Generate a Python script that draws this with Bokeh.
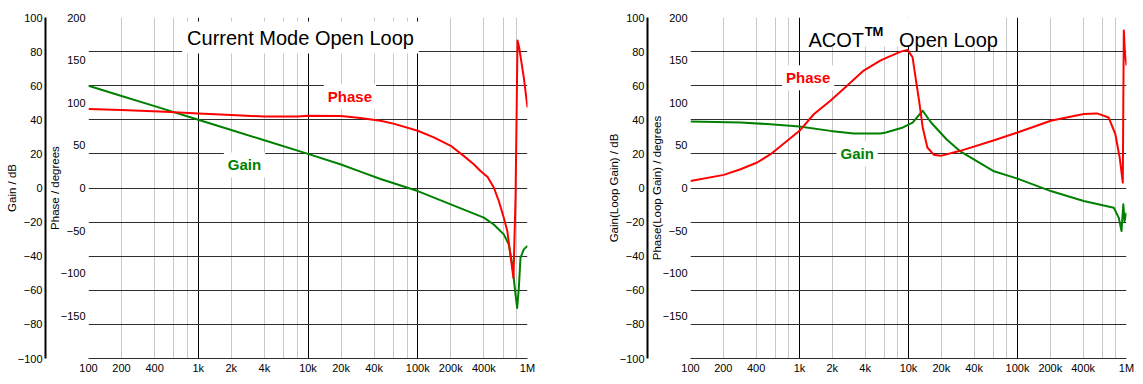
from bokeh.plotting import figure
from bokeh.models import (Range1d, LinearAxis, FixedTicker, Label, BoxAnnotation)
from bokeh.layouts import row
from bokeh.embed import file_html
from bokeh.resources import INLINE

FONT = "Liberation Sans"

# ---------------- data ----------------
x_tick_values = [100, 200, 400, 1000, 2000, 4000, 10000, 20000, 40000,
                 100000, 200000, 400000, 1000000]
x_tick_labels = ["100", "200", "400", "1k", "2k", "4k", "10k", "20k", "40k",
                 "100k", "200k", "400k", "1M"]
gain_ticks = [-100, -80, -60, -40, -20, 0, 20, 40, 60, 80, 100]
phase_ticks = [-150, -100, -50, 0, 50, 100, 150, 200]
phase_grid = [-200, -160, -120, -80, -40, 0, 40, 80, 120, 160, 200]

# Current mode open loop
cm_gain_freq = [100, 200, 400, 1000, 2000, 4000, 10000, 20000, 30000, 45800,
                100000, 200000, 400000, 493000, 608000, 676000, 726000, 778000,
                805000, 834000, 863000, 925000, 1000000]
cm_gain_db = [60, 54, 48, 40, 34, 28, 20, 13.8, 9.6, 5.3,
              -1.8, -9.6, -17.4, -21.4, -27.2, -33.1, -44.8, -62.5,
              -70.4, -58.6, -41, -36, -34]
cm_phase_freq = [100, 200, 500, 1000, 2000, 4000, 8000, 10000, 20000, 30000,
                 45800, 60000, 100000, 140000, 200000, 262000, 324000, 373000,
                 433000, 493000, 547000, 608000, 655000, 697000, 745000,
                 778000, 797000, 811000, 839000, 925000, 1000000]
cm_phase_deg = [92.6, 91.5, 89.4, 87.5, 85.5, 83.8, 84, 84.7, 84.5, 82,
                78.9, 75.5, 67.1, 59.3, 49.5, 37.7, 27.9, 20,
                12.8, 0.6, -15, -34.8, -50.6, -78, -105.4,
                -11.3, 94.5, 173, 165, 129.8, 94.5]

# ACOT open loop
acot_gain_freq = [100, 288, 506, 1000, 1920, 3160, 5500, 6200, 8900, 10900,
                  13500, 16100, 22300, 29400, 59800, 100000, 202000, 405000,
                  765000, 850000, 900000, 935000, 960000, 1000000]
acot_gain_db = [39.0, 38.4, 37.5, 36.1, 33.5, 32, 32, 32.6, 35.5, 38.4,
                45.3, 38.4, 28.6, 21.8, 10, 5.5, -1.8, -7.6,
                -11.6, -17.5, -25.3, -9.6, -19.4, -14.5]
acot_phase_freq = [100, 202, 288, 409, 543, 772, 1000, 1360, 1920, 2730, 3880,
                   5500, 6400, 8500, 9800, 10900, 11600, 12500, 13500, 14900,
                   17100, 19700, 29900, 61000, 100000, 202000, 405000, 537000,
                   685000, 790000, 866000, 925000, 935000, 945000, 965000,
                   1000000]
acot_phase_deg = [8.3, 15.4, 22, 29.9, 39.7, 55.4, 67.1, 86.8, 102.4, 120, 137.7,
                  149.4, 153.3, 160, 162, 153.3, 129.8, 102.4, 71, 47.5,
                  38.9, 37.7, 43.6, 56.1, 65.1, 78.9, 86.7, 87.5,
                  82.7, 63.1, 35.7, 6.3, 102.4, 184.7, 161,
                  143.5]

GAIN_COLOR = "#008000"
PHASE_COLOR = "#ff0000"


def style_y(ax, label):
    ax.axis_label = label
    ax.major_tick_line_color = None
    ax.minor_tick_line_color = None
    ax.major_tick_out = 0
    ax.major_tick_in = 0
    ax.minor_tick_out = 0
    ax.minor_tick_in = 0
    ax.major_label_standoff = 3
    ax.axis_label_standoff = -3
    ax.major_label_text_font = FONT
    ax.major_label_text_font_size = "11px"
    ax.major_label_text_color = "black"
    ax.axis_label_text_font = FONT
    ax.axis_label_text_font_size = "11.5px"
    ax.axis_label_text_font_style = "normal"
    ax.axis_label_text_color = "black"


def make_chart(border_left, border_right, frame_w, gain_label, phase_label,
               majors, minors):
    p = figure(x_axis_type="log", x_range=Range1d(100, 1e6),
               y_range=Range1d(-200, 200),
               frame_width=frame_w, frame_height=341,
               min_border_left=border_left, min_border_right=border_right,
               min_border_top=17, min_border_bottom=22,
               output_backend="svg", toolbar_location=None, tools="",
               background_fill_color="white", border_fill_color="white")
    p.outline_line_color = None
    p.extra_y_ranges = {"gain": Range1d(-100, 100)}

    # grids
    p.ygrid.ticker = FixedTicker(ticks=phase_grid)
    p.ygrid.grid_line_color = "#2e2e2e"
    p.ygrid.grid_line_width = 1
    p.xgrid.ticker = FixedTicker(ticks=majors, minor_ticks=minors)
    p.xgrid.grid_line_color = "#000000"
    p.xgrid.grid_line_width = 1
    p.xgrid.minor_grid_line_color = "#c8c8c8"
    p.xgrid.minor_grid_line_width = 1

    # x axis
    xa = p.xaxis[0]
    xa.ticker = FixedTicker(ticks=x_tick_values)
    xa.major_label_overrides = {float(v): t for v, t in zip(x_tick_values, x_tick_labels)}
    xa.major_tick_line_color = None
    xa.minor_tick_line_color = None
    xa.major_tick_out = 0
    xa.major_tick_in = 0
    xa.axis_line_color = "#2e2e2e"
    xa.major_label_standoff = 3
    xa.major_label_text_font = FONT
    xa.major_label_text_font_size = "11px"
    xa.major_label_text_color = "black"

    # phase axis (inner)
    pa = p.yaxis[0]
    pa.ticker = FixedTicker(ticks=phase_ticks)
    pa.axis_line_color = None
    style_y(pa, phase_label)

    # gain axis (outer)
    ga = LinearAxis(y_range_name="gain", ticker=FixedTicker(ticks=gain_ticks))
    ga.axis_line_color = "black"
    ga.axis_line_width = 2
    style_y(ga, gain_label)
    p.add_layout(ga, "left")
    return p


def tag(p, x, y, text, color, size, bold=True, align="center", baseline="middle",
        bg=True, pad=4):
    kw = dict(x=x, y=y, text=text, text_color=color, text_font=FONT,
              text_font_size=size, text_font_style="bold" if bold else "normal",
              text_align=align, text_baseline=baseline)
    if bg:
        kw.update(background_fill_color="white", background_fill_alpha=1.0,
                  padding=pad)
    p.add_layout(Label(**kw))


# ---------------- left chart ----------------
p1 = make_chart(88, 20, 439, "Gain / dB", "Phase / degrees",
                [1000, 10000, 100000],
                [100, 200, 400, 600, 800, 2000, 4000, 6000, 8000,
                 20000, 40000, 60000, 80000, 200000, 400000,
                 600000, 800000, 1000000])
p1.line(cm_gain_freq, cm_gain_db, y_range_name="gain", line_color=GAIN_COLOR,
        line_width=2, line_join="round")
p1.line(cm_phase_freq, cm_phase_deg, line_color=PHASE_COLOR, line_width=2,
        line_join="round")
tag(p1, 8540, 176.5, "Current Mode Open Loop", "black", "20px", bold=False, pad=5)
tag(p1, 24100, 107.1, "Phase", PHASE_COLOR, "15px")
tag(p1, 2640, 27.1, "Gain", GAIN_COLOR, "15px")

# ---------------- right chart ----------------
p2 = make_chart(143, 10, 436, "Gain(Loop Gain) / dB", "Phase(Loop Gain) / degrees",
                [1000, 10000, 100000, 1000000],
                [100, 200, 400, 600, 800, 2000, 4000, 6000, 8000,
                 20000, 40000, 60000, 80000, 200000, 400000, 600000, 800000])
p2.line(acot_gain_freq, acot_gain_db, y_range_name="gain", line_color=GAIN_COLOR,
        line_width=2, line_join="round")
p2.line(acot_phase_freq, acot_phase_deg, line_color=PHASE_COLOR, line_width=2,
        line_join="round")
title_bg = BoxAnnotation(left=1068, right=70300, bottom=166, top=204,
                         fill_color="white", fill_alpha=1.0, line_color=None,
                         level="underlay")
p2.add_layout(title_bg)
tag(p2, 1210, 173.5, "ACOT", "black", "20px", bold=False, align="left",
    baseline="alphabetic", bg=False)
tag(p2, 3960, 183.3, "TM", "black", "13px", bold=True, align="left",
    baseline="alphabetic", bg=False)
tag(p2, 8180, 173.5, "Open Loop", "black", "20px", bold=False, align="left",
    baseline="alphabetic", bg=False)
tag(p2, 1200, 129.4, "Phase", PHASE_COLOR, "15px")
tag(p2, 3380, 40, "Gain", GAIN_COLOR, "15px")

layout = row(p1, p2)
open("out.html", "w").write(file_html(layout, INLINE))
